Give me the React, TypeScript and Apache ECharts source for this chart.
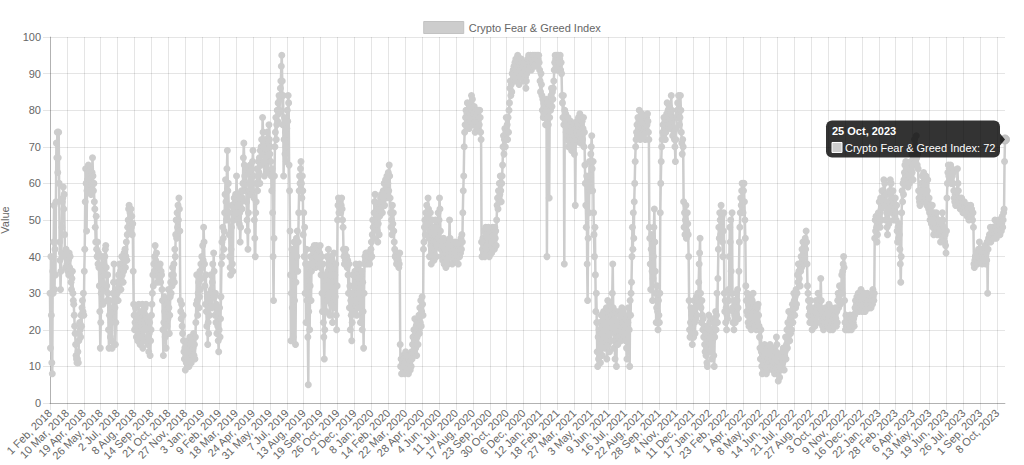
import React, { useEffect, useRef } from "react";
import * as echarts from "echarts";

// ---- Data (daily Crypto Fear & Greed Index) ----
const v2018 = [
  // Feb
  30,15,40,24,11,8,36,30,44,54, 31,42,35,55,71,67,74,63,67,74, 60,44,39,31,36,41,48,55,
  // Mar
  56,59,53,57,46,40,37,42,41,38, 40,36,39,35,41,37,40,35,33,31, 34,36,30,28,27,24,21,19,16,13, 12,
  // Apr (14-16 missing)
  11,12,14,11,17,19,22,20,18,24,21,26,28, 25,30,24,36,42,55,64,60,47,58,61,63,65,60,
  // May
  62,58,61,64,57,60,63,67,62,58, 60,55,53,48,44,51,42,40,44,38, 41,37,32,25,15,22,30,36,40,33, 27,
  // Jun
  31,38,35,40,42,43,37,32,28,35, 30,20,15,24,28,18,26,22,17,15, 25,30,33,38,30,26,16,22,28,31,
  // Jul
  30,33,28,35,32,38,34,36,31,37, 40,35,38,33,36,41,39,42,37,40, 44,39,46,48,50,53,54,49,52,47, 53,
  // Aug
  48,51,46,49,36,27,24,20,22,26, 21,18,23,20,17,24,27,19,23,16, 21,25,18,22,27,15,20,24,17,22, 26,
  // Sep
  24,27,20,23,18,16,21,14,19,22, 13,17,20,24,27,30,35,32,38,36, 40,43,39,35,41,37,33,36,38,34,
  // Oct
  37,34,38,33,36,35,31,28,20,13, 22,29,25,18,24,15,27,21,28,23, 31,26,19,24,29,33,30,35,32,37, 34,
  // Nov
  35,38,33,42,40,46,50,45,52,48, 54,50,56,53,47,28,25,23,27,21, 19,24,17,14,12,15,9,13,11,16,
  // Dec
  14,11,17,13,10,15,18,12,16,11, 14,17,12,15,19,13,16,12,18,22, 27,35,28,24,30,33,26,29,36,31, 38,
];

const v2019 = [
  34,40,37,43,39,48,44,38,32,27, 35,25,21,29,16,22,19,26,24,30, 28,35,31,26,33,38,30,41,36,29, 24,
  30,22,27,19,25,21,17,14,20,26, 18,23,29,38,44,40,48,45,42,47, 52,57,61,55,50,64,69,58,
  60,52,46,40,37,35,42,48,54,38, 36,50,53,56,51,55,57,52,62,55, 50,54,57,53,49,52,44,48,55,58, 53,
  56,60,67,71,65,62,58,64,60,55, 50,47,42,52,58,63,60,65,61,57, 64,60,66,69,62,56,50,45,40,52,
  55,60,64,58,62,66,63,67,60,69, 65,70,72,68,78,74,70,66,62,68, 72,67,64,70,74,69,63,71,76,72, 68,
  70,66,62,58,64,52,40,28,45,62, 70,74,78,72,76,80,77,82,79,84, 80,83,86,88,92,95,88,76,84,62,
  72,78,68,74,70,66,75,80,77,84, 82,65,58,47,35,17,30,42,26,40, 18,35,44,28,38,16,33,45,40,47, 36,
  44,52,58,62,60,64,66,60,56,62, 58,46,52,40,48,30,38,22,42,28, 35,18,5,25,38,20,32,40,28,36, 42,
  40,42,38,41,43,39,42,37,40,43, 38,41,39,42,40,38,41,43,37,35, 40,30,25,38,22,18,12,20,35,28,
  25,32,40,28,36,42,30,38,24,35, 40,27,33,39,22,37,30,41,26,35, 29,38,24,20,32,50,54,56,52,55, 53,
  55,52,54,56,53,50,48,42,40,38, 41,39,42,38,40,37,39,35,30,38, 26,32,20,28,24,17,22,30,35,28,
  25,32,36,28,38,33,24,35,30,37, 26,34,38,31,22,35,28,36,20,33, 25,15,30,38,40,39,41,40,38,41, 39,
];

const v2020 = [
  40,41,39,38,40,41,42,44,40,46, 50,48,45,52,55,57,52,48,54,50, 47,44,49,53,46,51,55,56,53,57, 54,
  52,55,58,56,60,54,58,61,56,59, 62,57,60,63,58,65,62,56,52,48, 50,46,54,49,52,47,44,42,40,
  40,41,38,39,41,40,39,37,38,41, 16,10,12,8,10,11,13,9,12,10, 8,11,14,10,12,9,13,11,8,12, 10,
  11,9,13,10,14,12,16,18,14,20, 17,23,19,15,21,13,18,22,16,20, 24,19,26,22,28,21,25,29,27,24,
  42,44,48,50,46,52,49,54,51,48, 56,53,45,40,47,52,43,38,46,50, 41,44,48,39,42,46,50,44,40,47, 43,
  48,52,45,50,56,53,47,42,44,40, 43,39,41,45,38,42,40,44,37,41, 43,39,42,38,40,44,50,45,41,43,
  40,42,38,41,43,39,42,40,44,41, 39,42,40,43,41,38,42,44,40,43, 41,45,42,46,44,52,58,62,70,74, 76,
  78,80,76,79,82,77,80,78,75,81, 79,77,82,84,80,83,78,76,79,81, 77,74,78,80,76,79,75,77,80,78, 76,
  80,78,74,72,44,40,42,45,41,43, 47,40,44,48,42,46,43,41,45,48, 44,40,42,47,43,45,41,44,48,46,
  44,46,42,48,45,47,43,50,54,56, 53,58,55,60,57,62,58,55,60,62, 65,70,73,68,72,75,70,74,78,72, 76,
  72,78,74,80,82,86,88,84,87,85, 90,88,91,89,92,90,93,88,94,91, 89,92,95,90,93,87,89,91,94,92,
  94,91,93,90,92,88,90,93,91,89, 86,88,90,92,94,91,95,93,94,92, 95,93,91,94,92,95,93,94,95,92, 94,
];

const v2021 = [
  94,95,93,94,95,92,94,95,93,91, 88,85,90,87,84,80,83,78,82,79, 81,78,76,80,83,40,78,82,76,80, 56,
  78,82,80,84,86,81,85,83,86,88, 91,93,95,94,92,95,93,94,91,95, 93,92,94,95,91,93,90,84,
  82,78,84,76,38,80,77,79,74,76, 72,75,78,70,73,76,71,74,77,72, 69,75,72,70,76,73,68,71,54,72, 75,
  74,77,72,76,78,73,75,79,74,71, 76,73,77,72,75,78,70,74,65,60, 54,48,62,38,28,45,60,52,66,58,
  62,68,70,73,64,58,66,52,46,40, 48,35,25,30,22,14,10,18,12,20, 15,22,11,16,24,19,13,21,17,25, 18,
  20,15,23,18,26,12,22,28,16,21, 25,14,19,27,17,22,24,30,38,26, 20,15,23,12,19,25,10,18,22,16,
  22,18,25,20,24,21,17,23,26,19, 22,25,18,21,24,20,17,23,15,12, 19,22,26,24,20,10,28,24,30,33, 40,
  48,42,52,45,55,60,66,70,72,74, 76,73,78,75,77,80,74,72,76,78, 75,79,77,74,73,76,78,75,72,74, 76,
  78,76,79,77,74,72,48,45,38,31, 42,46,36,28,34,40,48,53,44,36, 30,22,26,32,25,20,28,24,22,30,
  52,60,66,70,72,74,76,73,78,75, 77,72,74,76,79,82,78,80,76,78, 81,77,75,79,84,80,77,73,75,78, 74,
  72,70,66,72,75,78,80,82,79,84, 80,76,78,84,80,74,71,68,72,70, 55,48,52,46,50,54,45,47,52,49,
  46,40,28,20,18,22,26,19,24,16, 21,25,18,28,22,19,26,23,29,24, 27,30,28,33,38,41,45,30,26,22, 28,
];

const v2022 = [
  24,20,23,18,21,16,14,19,13,15, 11,10,17,21,24,20,22,18,14,16, 20,12,17,23,19,13,10,18,22,25, 20,
  24,30,22,34,42,48,45,52,50,46, 54,48,51,44,40,47,52,30,25,28, 22,26,20,24,23,25,31,28,
  40,48,44,50,36,30,52,26,22,25, 20,28,24,22,26,30,24,28,31,26, 23,36,44,48,52,56,54,58,60,55, 52,
  58,60,55,50,45,32,28,25,30,24, 22,27,21,26,29,23,25,20,26,28, 24,30,27,22,25,21,26,23,20,24,
  26,22,27,24,21,18,15,12,20,14, 10,8,12,11,9,14,16,12,10,13, 8,11,15,12,9,14,11,13,16,12, 10,
  12,10,14,9,13,11,15,8,12,10, 14,18,16,10,8,6,9,11,7,10, 13,9,12,10,14,11,15,12,9,13,
  14,18,12,16,20,15,22,18,25,21, 17,23,19,25,20,24,27,22,26,30, 28,24,29,26,31,27,30,35,33,38, 36,
  34,38,32,36,40,37,42,39,44,41, 38,43,40,45,42,47,44,38,32,30, 28,24,26,22,25,28,23,26,20,24, 22,
  24,22,26,21,23,25,28,22,24,27, 30,26,28,24,22,26,34,28,25,22, 21,24,20,23,25,22,26,24,21,23,
  22,25,21,24,27,23,20,22,26,21, 24,22,20,23,25,21,24,22,26,23, 21,25,22,28,30,26,29,32,30,27, 30,
  32,35,30,36,38,40,37,28,22,20, 24,21,23,20,22,21,23,20,22,24, 21,23,20,22,21,24,22,23,21,24,
  26,28,25,27,29,26,28,30,27,25, 28,26,29,31,27,28,25,27,26,28, 30,27,25,28,26,29,27,30,28,26, 27,
];

const v2023 = [
  26,28,27,29,26,28,30,27,31,29, 28,30,45,50,47,51,48,44,46,50, 52,49,55,52,48,56,53,50,58,55, 54,
  58,61,56,60,54,50,57,52,48,46, 50,53,49,55,58,61,57,60,56,52, 54,58,55,50,53,51,56,52,
  50,54,47,44,48,45,49,46,42,38, 33,40,52,58,55,60,57,61,63,65, 62,66,64,60,62,65,59,61,63,60, 64,
  62,66,64,68,63,65,61,67,70,72, 68,66,70,73,67,65,68,64,58,56, 55,54,58,57,60,56,62,58,60,63,
  58,55,60,56,62,57,54,58,61,55, 53,56,52,50,54,51,49,52,54,48, 50,46,52,49,47,51,48,52,50,46, 49,
  48,50,46,49,47,44,48,46,49,52, 50,47,45,48,44,46,43,41,47,56, 60,63,65,62,64,61,63,65,62,60,
  64,62,60,63,58,56,55,57,54,56, 58,56,64,60,58,55,54,56,53,55, 54,56,53,55,52,54,53,55,52,54, 53,
  52,54,51,53,52,54,50,53,51,52, 54,51,53,52,50,52,48,38,37,39, 40,38,40,39,41,38,40,42,41,44, 42,
  40,42,39,41,38,40,42,39,41,40, 43,40,38,41,39,44,30,42,45,44, 46,45,48,44,46,47,45,48,47,46,
  45,47,50,46,48,45,47,49,46,48, 50,47,49,46,48,50,47,49,51,48, 50,52,53,66,72,
];

const SERIES_NAME = "Crypto Fear & Greed Index";
const Y_AXIS_NAME = "Value";
const MONTHS = ["Jan", "Feb", "Mar", "Apr", "May", "Jun", "Jul", "Aug", "Sep", "Oct", "Nov", "Dec"];
const START_DATE = "2018-02-01";
const MISSING_DATES = ["2018-04-14", "2018-04-15", "2018-04-16"];
const LABEL_EVERY = 37;

const VALUES = [...v2018, ...v2019, ...v2020, ...v2021, ...v2022, ...v2023];

function buildCategories(n: number): string[] {
  const out: string[] = [];
  let t = Date.parse(START_DATE + "T00:00:00Z");
  while (out.length < n) {
    const d = new Date(t);
    const iso = d.toISOString().slice(0, 10);
    if (!MISSING_DATES.includes(iso)) {
      out.push(`${d.getUTCDate()} ${MONTHS[d.getUTCMonth()]}, ${d.getUTCFullYear()}`);
    }
    t += 86400000;
  }
  return out;
}

const CATEGORIES = buildCategories(VALUES.length);

const FONT = "'Liberation Sans', Arial, Helvetica, sans-serif";
const FS = 11;
const LINE_COLOR = "#cdcdcd";
const GRID_COLOR = "rgba(0,0,0,0.1)";
const AXIS_COLOR = "rgba(0,0,0,0.22)";

export default function App() {
  const ref = useRef<HTMLDivElement>(null);

  useEffect(() => {
    if (!ref.current) return;
    const chart = echarts.init(ref.current, undefined, { renderer: "svg" });
    chart.setOption({
      animation: false,
      textStyle: { fontFamily: FONT },
      legend: {
        top: 16,
        left: "center",
        itemWidth: 40,
        itemHeight: 12,
        icon: "rect",
        itemStyle: { borderColor: "#c2c2c2", borderWidth: 1 },
        textStyle: { color: "#666", fontSize: FS, fontFamily: FONT },
        data: [SERIES_NAME],
      },
      grid: {
        left: 50,
        right: 19,
        top: 37,
        bottom: 62,
        containLabel: false,
        outerBoundsMode: "none",
      },
      xAxis: {
        type: "category",
        data: CATEGORIES,
        boundaryGap: false,
        axisLine: { lineStyle: { color: AXIS_COLOR } },
        axisTick: { show: true, interval: LABEL_EVERY - 1, length: 7, lineStyle: { color: GRID_COLOR } },
        axisLabel: {
          interval: LABEL_EVERY - 1,
          rotate: 45,
          color: "#666",
          fontSize: FS,
          fontFamily: FONT,
          margin: 8,
          hideOverlap: false,
        },
        splitLine: { show: true, interval: LABEL_EVERY - 1, lineStyle: { color: GRID_COLOR } },
      },
      yAxis: {
        type: "value",
        min: 0,
        max: 100,
        interval: 10,
        name: Y_AXIS_NAME,
        nameLocation: "middle",
        nameGap: 40,
        nameRotate: 90,
        nameTextStyle: { color: "#666", fontSize: FS, fontFamily: FONT },
        axisLine: { show: true, lineStyle: { color: AXIS_COLOR } },
        axisTick: { show: true, length: 7, lineStyle: { color: GRID_COLOR } },
        axisLabel: { color: "#666", fontSize: FS, fontFamily: FONT, margin: 9 },
        splitLine: { show: true, lineStyle: { color: GRID_COLOR } },
      },
      series: [
        {
          name: SERIES_NAME,
          type: "line",
          data: VALUES,
          symbol: "circle",
          symbolSize: 7,
          showSymbol: true,
          showAllSymbol: true,
          itemStyle: { color: LINE_COLOR },
          lineStyle: { color: LINE_COLOR, width: 2.5 },
          emphasis: { disabled: true },
        },
      ],
    });

    const last = VALUES.length - 1;
    const p = chart.convertToPixel({ xAxisIndex: 0, yAxisIndex: 0 }, [last, VALUES[last]]) as number[];
    const px = p[0];
    const py = p[1];
    const boxW = 174;
    const boxH = 37;
    const boxRight = px - 5;
    const boxLeft = boxRight - boxW;
    const boxTop = py - 19;
    chart.setOption({
      graphic: [
        {
          type: "circle",
          z: 100,
          shape: { cx: px, cy: py, r: 4.5 },
          style: { fill: "#c4c4c4", stroke: "#bdbdbd", lineWidth: 1 },
        },
        {
          type: "rect",
          z: 100,
          shape: { x: boxLeft, y: boxTop, width: boxW, height: boxH, r: 6 },
          style: { fill: "rgba(0,0,0,0.8)" },
        },
        {
          type: "polygon",
          z: 100,
          shape: { points: [[boxRight, py - 6], [boxRight + 5, py], [boxRight, py + 6]] },
          style: { fill: "rgba(0,0,0,0.8)" },
        },
        {
          type: "text",
          z: 101,
          x: boxLeft + 6,
          y: boxTop + 10.5,
          style: {
            text: CATEGORIES[last],
            fill: "#fff",
            font: `bold ${FS}px ${FONT}`,
            textVerticalAlign: "middle",
          },
        },
        {
          type: "rect",
          z: 101,
          shape: { x: boxLeft + 6, y: boxTop + 22, width: 10, height: 10 },
          style: { fill: LINE_COLOR, stroke: "#fff", lineWidth: 1 },
        },
        {
          type: "text",
          z: 101,
          x: boxLeft + 19,
          y: boxTop + 27.5,
          style: {
            text: `${SERIES_NAME}: ${VALUES[last]}`,
            fill: "#fff",
            font: `${FS}px ${FONT}`,
            textVerticalAlign: "middle",
          },
        },
      ],
    });

    return () => chart.dispose();
  }, []);

  return (
    <div
      ref={ref}
      style={{ position: "absolute", left: 0, top: 0, width: 1024, height: 465 }}
    />
  );
}
